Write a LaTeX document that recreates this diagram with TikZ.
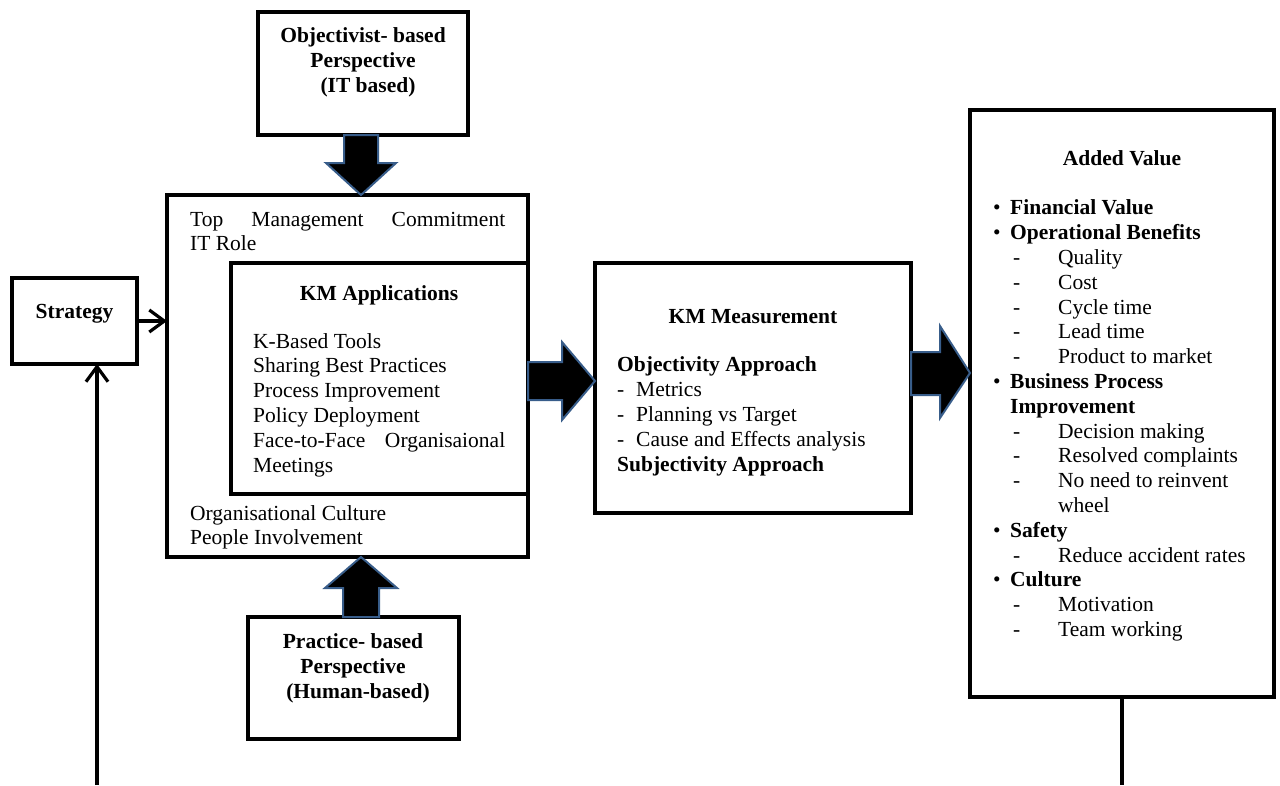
\documentclass[tikz,border=0pt]{standalone}
\usepackage{fontspec}
\setmainfont{Liberation Serif}
\usetikzlibrary{arrows.meta,calc}
\definecolor{arrowblue}{RGB}{56,93,138}
\begin{document}
\begin{tikzpicture}[x=1pt,y=-1pt,
  box/.style={draw=black,line width=3.2pt,rectangle,inner sep=0pt,outer sep=0pt,anchor=north west},
  txt/.style={inner sep=0pt,font=\fontsize{21.5}{24.8}\selectfont},
  hd/.style={txt,font=\fontsize{21.5}{24.8}\selectfont\bfseries},
  link/.style={line width=3.2pt,-{Straight Barb[length=15pt,width=22pt,line width=3.2pt]}},
  block/.style={fill=black,draw=arrowblue,line width=2pt,line join=miter}]
\useasboundingbox (0,0) rectangle (1280,785);

% boxes
\node[box,minimum width=210pt,minimum height=123pt] (obj) at (258,12) {};
\node[box,minimum width=361pt,minimum height=362pt] (main) at (167,195) {};
\node[box,minimum width=297pt,minimum height=231pt] (apps) at (231,263) {};
\node[box,minimum width=316pt,minimum height=250pt] (meas) at (595,263) {};
\node[box,minimum width=304pt,minimum height=587pt] (added) at (970,110) {};
\node[box,minimum width=125pt,minimum height=86pt] (strat) at (12,278) {};
\node[box,minimum width=211pt,minimum height=122pt] (prac) at (248,617) {};

% texts (multi-line nodes are placed by the baseline of their last line)
\node[hd,align=center,anchor=base] (objT) at (363,92)
  {Objectivist- based\\Perspective\\\hspace*{10pt}(IT based)};
\node[hd,align=center,anchor=base] (pracT) at (353,698)
  {Practice- based\\Perspective\\\hspace*{10pt}(Human-based)};
\node[hd,anchor=base] (stratT) at (74.5,318) {Strategy};

\node[txt,align=left,anchor=base west] (topT) at (190,250.8)
  {\hbox to 315pt{Top\hfill Management\hfill Commitment}\\IT Role};
\node[hd,anchor=base] (appsT) at (379,300) {KM Applications};
\node[txt,align=left,anchor=base west] (appsL) at (253,472)
  {K-Based Tools\\Sharing Best Practices\\Process Improvement\\Policy Deployment\\
   \hbox to 252pt{Face-to-Face\hfill Organisaional}\\Meetings};
\node[txt,align=left,anchor=base west] (cultT) at (190,544.8)
  {Organisational Culture\\People Involvement};

\node[hd,anchor=base] (measT) at (753,323) {KM Measurement};
\node[txt,align=left,anchor=base west] (measL) at (617,471)
  {\textbf{Objectivity Approach}\\
   \makebox[19pt][l]{-}Metrics\\
   \makebox[19pt][l]{-}Planning vs Target\\
   \makebox[19pt][l]{-}Cause and Effects analysis\\
   \textbf{Subjectivity Approach}};

\node[hd,anchor=base] (addedT) at (1122,165) {Added Value};
\newcommand{\bul}[1]{\makebox[20pt][l]{\hspace*{3pt}\textbullet}\textbf{#1}}
\newcommand{\das}[1]{\makebox[68pt][l]{\hspace*{23pt}-}#1}
\node[txt,align=left,anchor=base west] (addedL) at (990,636.5)
  {\bul{Financial Value}\\
   \bul{Operational Benefits}\\
   \das{Quality}\\
   \das{Cost}\\
   \das{Cycle time}\\
   \das{Lead time}\\
   \das{Product to market}\\
   \bul{Business Process}\\
   \hspace*{20pt}\textbf{Improvement}\\
   \das{Decision making}\\
   \das{Resolved complaints}\\
   \das{No need to reinvent}\\
   \hspace*{68pt}wheel\\
   \bul{Safety}\\
   \das{Reduce accident rates}\\
   \bul{Culture}\\
   \das{Motivation}\\
   \das{Team working}};

% connectors
\coordinate (bottomL) at (97,785);
\coordinate (bottomR) at (1122,785);
\draw[link] (strat.east) -- (strat.east -| main.west);
\draw[link] (bottomL) -- (bottomL |- strat.south);
\draw[line width=3.2pt] (added.south) -- (bottomR);

% block arrows
% down: objectivist -> main
\coordinate (d0) at (361,135);
\draw[block] ($(d0)+(-17,0)$) -- ($(d0)+(17,0)$) -- ($(d0)+(17,28)$) -- ($(d0)+(35,28)$)
  -- (d0 |- main.north) -- ($(d0)+(-35,28)$) -- ($(d0)+(-17,28)$) -- cycle;
% up: practice -> main
\coordinate (u0) at (361,617);
\draw[block] ($(u0)+(-18,0)$) -- ($(u0)+(18,0)$) -- ($(u0)+(18,-29)$) -- ($(u0)+(36,-29)$)
  -- (u0 |- main.south) -- ($(u0)+(-36,-29)$) -- ($(u0)+(-18,-29)$) -- cycle;
% right: main -> measurement
\coordinate (r0) at (528,381);
\draw[block] ($(r0)+(0,-19)$) -- ($(r0)+(34,-19)$) -- ($(r0)+(34,-39)$) -- (r0 -| meas.west)
  -- ($(r0)+(34,39)$) -- ($(r0)+(34,19)$) -- ($(r0)+(0,19)$) -- cycle;
% right: measurement -> added value
\coordinate (s0) at (911,373);
\draw[block] ($(s0)+(0,-21)$) -- ($(s0)+(29,-21)$) -- ($(s0)+(29,-47)$) -- (s0 -| added.west)
  -- ($(s0)+(29,45)$) -- ($(s0)+(29,22)$) -- ($(s0)+(0,22)$) -- cycle;
\end{tikzpicture}
\end{document}
